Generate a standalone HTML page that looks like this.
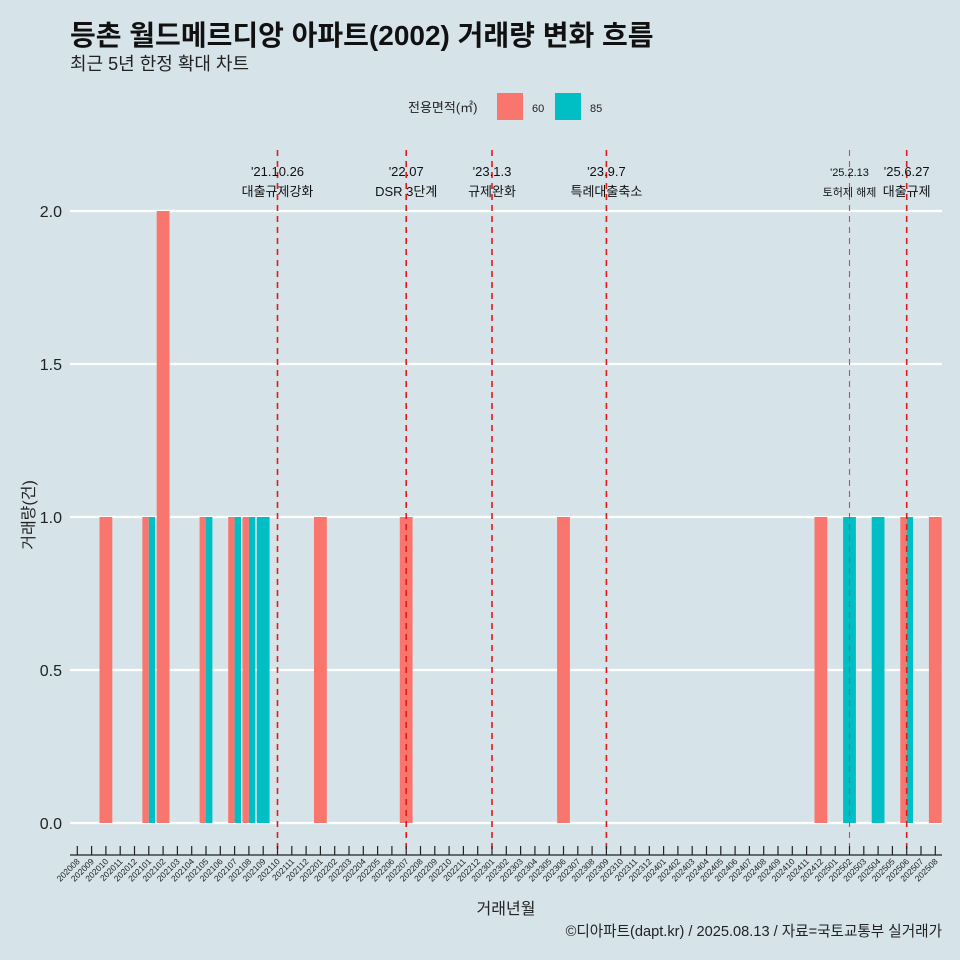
<!DOCTYPE html>
<html><head><meta charset="utf-8">
<style>
body{margin:0;background:#d6e4ea;}
svg{display:block;font-family:"Liberation Sans","Noto Sans CJK KR",sans-serif;}
</style></head>
<body>
<svg id="chart" width="960" height="960" viewBox="0 0 960 960">
<rect width="960" height="960" fill="#d6e4ea"/>
<text x="70" y="45" font-size="28" font-weight="bold" fill="#111">등촌 월드메르디앙 아파트(2002) 거래량 변화 흐름</text>
<text x="70" y="70" font-size="18" fill="#222">최근 5년 한정 확대 차트</text>
<g>
<text x="408" y="112" font-size="13" fill="#222">전용면적(㎡)</text>
<rect x="497" y="93" width="26" height="27" fill="#f8766d"/>
<text x="532" y="112" font-size="11" fill="#222">60</text>
<rect x="555" y="93" width="26" height="27" fill="#00bfc4"/>
<text x="590" y="112" font-size="11" fill="#222">85</text>
</g>
<g id="grid"></g>
<g id="bars"></g>
<g id="vlines"></g>
<g id="xaxis"></g>
<text transform="translate(34,515) rotate(-90)" text-anchor="middle" font-size="16" fill="#222">거래량(건)</text>
<text x="506" y="914" text-anchor="middle" font-size="16" fill="#222">거래년월</text>
<text x="942" y="936" text-anchor="end" font-size="14.6" fill="#222">©디아파트(dapt.kr) / 2025.08.13 / 자료=국토교통부 실거래가</text>
</svg>
<script>
const months = [];
for (let y = 2020; y <= 2025; y++) for (let m = 1; m <= 12; m++) {
  const s = y + String(m).padStart(2, '0');
  if (s >= '202008' && s <= '202508') months.push(s);
}
const series60Months = ['202010','202101','202102','202105','202107','202108','202201','202207','202306','202412','202506','202508'];
const series60Values = [1,1,2,1,1,1,1,1,1,1,1,1];
const series85Months = ['202101','202105','202107','202108','202109','202502','202504','202506'];
const series85Values = [1,1,1,1,1,1,1,1];
const yTicks = [0, 0.5, 1.0, 1.5, 2.0];
const yTickLabels = ['0.0','0.5','1.0','1.5','2.0'];
const eventMonths = ['202110','202207','202301','202309','202502','202506'];
const eventDates = ["'21.10.26","'22.07","'23.1.3","'23.9.7","'25.2.13","'25.6.27"];
const eventNames = ['대출규제강화','DSR 3단계','규제완화','특례대출축소','토허제 해제','대출규제'];

const NS = 'http://www.w3.org/2000/svg';
const x0 = 77.3, step = 14.3, y0 = 823, yUnit = 306;
const xs = m => x0 + months.indexOf(m) * step;
const ys = v => y0 - v * yUnit;
function mk(tag, attrs, parent) {
  const e = document.createElementNS(NS, tag);
  for (const k in attrs) e.setAttribute(k, attrs[k]);
  parent.appendChild(e);
  return e;
}
const grid = document.getElementById('grid');
yTicks.forEach((v, i) => {
  const l = mk('line', {x1: 70, x2: 942, y1: ys(v), y2: ys(v), stroke: '#fff', 'stroke-width': 2.2}, grid);
  
  
  const t = mk('text', {x: 62, y: ys(v) + 6, 'text-anchor': 'end', 'font-size': 16, fill: '#222'}, grid);
  t.textContent = yTickLabels[i];
  
  
});
const bars = document.getElementById('bars');
const bw = 12.8;
function drawBar(m, v, color, other) {
  const both = other.includes(m);
  const isLeft = color === '#f8766d';
  let x = xs(m) - bw / 2, w = bw;
  if (both) { w = bw / 2; if (!isLeft) x += bw / 2; }
  const r = mk('rect', {x: x, y: ys(v), width: w, height: y0 - ys(v), fill: color}, bars);
  
  
}
series60Months.forEach((m, i) => drawBar(m, series60Values[i], '#f8766d', series85Months));
series85Months.forEach((m, i) => drawBar(m, series85Values[i], '#00bfc4', series60Months));
const vl = document.getElementById('vlines');
eventMonths.forEach((m, i) => {
  const x = xs(m);
  const small = m === '202502';
  const l = mk('line', {x1: x, x2: x, y1: 150, y2: 850, stroke: small ? '#ee3b3b' : '#e31a1c', 'stroke-width': small ? 1.1 : 1.6, 'stroke-dasharray': '6,5'}, vl);
  
  
  const fs = small ? 11 : 13;
  const t1 = mk('text', {x: x, y: 176, 'text-anchor': 'middle', 'font-size': fs, fill: '#111'}, vl);
  t1.textContent = eventDates[i];
  
  
  const t2 = mk('text', {x: x, y: 196, 'text-anchor': 'middle', 'font-size': fs, fill: '#111'}, vl);
  t2.textContent = eventNames[i];
  
  
});
const xa = document.getElementById('xaxis');
const al = mk('line', {x1: 70, x2: 942, y1: 855, y2: 855, stroke: '#222', 'stroke-width': 1.2}, xa);


months.forEach(m => {
  const x = xs(m);
  const tk = mk('line', {x1: x, x2: x, y1: 846, y2: 855, stroke: '#222', 'stroke-width': 1.2}, xa);
  
  
  const t = mk('text', {transform: 'translate(' + (x + 3) + ',862) rotate(-45)', 'text-anchor': 'end', 'font-size': 8.5, fill: '#222'}, xa);
  t.textContent = m;
  
  
});
</script>
</body></html>
